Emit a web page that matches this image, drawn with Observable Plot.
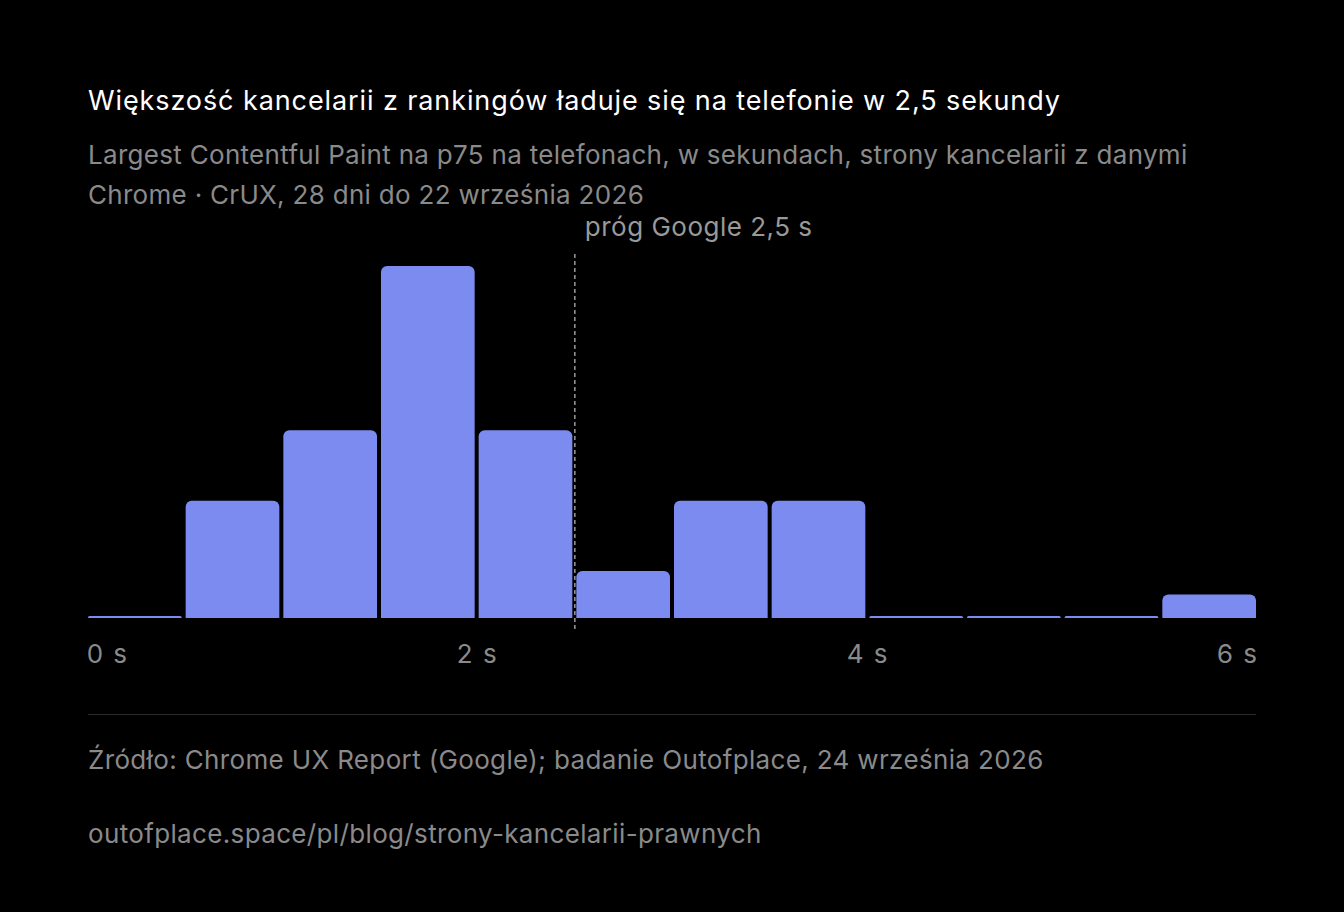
<!DOCTYPE html>
<html lang="pl">
<head>
<meta charset="utf-8">
<script src="https://cdn.jsdelivr.net/npm/d3@7"></script>
<script src="https://cdn.jsdelivr.net/npm/@observablehq/plot@0.6"></script>
<style>
  html, body { margin: 0; padding: 0; background: #000; }
  body { font-family: Inter, "Noto Sans", sans-serif; width: 1344px; height: 912px; overflow: hidden; }
  .wrap { position: relative; }
  .title { position: absolute; left: 88px; top: 84px; font-size: 27px; line-height: 34px; color: #fff; font-weight: 400; letter-spacing: 0.9px; white-space: nowrap; }
  .subtitle { position: absolute; left: 88px; top: 135px; width: 1172px; font-size: 26px; line-height: 40px; color: #8a8a8a; letter-spacing: 0.3px; }
  #chart { position: absolute; left: 0; top: 215px; }
  .rule { position: absolute; left: 88px; top: 714px; width: 1168px; height: 1px; background: #2b2b2b; }
  .source { position: absolute; left: 88px; top: 744px; font-size: 26px; line-height: 32px; color: #8a8a8a; letter-spacing: 0.35px; white-space: nowrap; }
  .url { position: absolute; left: 88px; top: 818px; font-size: 26px; line-height: 32px; color: #8a8a8a; letter-spacing: 0.35px; white-space: nowrap; }
</style>
</head>
<body>
<div class="wrap">
  <div class="title">Większość kancelarii z rankingów ładuje się na telefonie w 2,5 sekundy</div>
  <div class="subtitle">Largest Contentful Paint na p75 na telefonach, w sekundach, strony kancelarii z danymi Chrome · CrUX, 28 dni do 22 września 2026</div>
  <div id="chart"></div>
  <div class="rule"></div>
  <div class="source">Źródło: Chrome UX Report (Google); badanie Outofplace, 24 września 2026</div>
  <div class="url">outofplace.space/pl/blog/strony-kancelarii-prawnych</div>
</div>
<script>
// Histogram bins (seconds) and counts of law-firm sites per bin
const binStarts = [0, 0.5, 1, 1.5, 2, 2.5, 3, 3.5, 4, 4.5, 5, 5.5];
const binWidth = 0.5;
const counts = [0, 5, 8, 15, 8, 2, 5, 5, 0, 0, 0, 1];
const xTicks = [0, 2, 4, 6];
const threshold = 2.5;
const thresholdLabel = "próg Google 2,5 s";

const rows = binStarts.map((s, i) => ({ x1: s, x2: s + binWidth, count: counts[i] }));
const barColor = "#7b8bef";
const grey = "#8a8a8a";

const chart = Plot.plot({
  width: 1344,
  height: 470,
  marginLeft: 86,
  marginRight: 86,
  marginTop: 51,
  marginBottom: 67,
  style: { background: "transparent", color: grey, fontFamily: "Inter, 'Noto Sans', sans-serif", fontSize: "26px", overflow: "visible" },
  x: { domain: [0, 6], axis: null },
  y: { domain: [0, 15], axis: null },
  marks: [
    Plot.rectY(rows.filter(d => d.count > 0), { x1: "x1", x2: "x2", y: "count", fill: barColor, insetLeft: 2, insetRight: 2, insetBottom: -10, rx: 6, clip: "frame" }),
    Plot.rectY(rows.filter(d => d.count === 0), { x1: "x1", x2: "x2", y: "count", fill: barColor, insetLeft: 2, insetRight: 2, insetTop: -2, insetBottom: -4, rx: 1.5, clip: "frame" }),
    Plot.ruleX([threshold], { stroke: "#9a9a9a", strokeWidth: 1.5, strokeDasharray: "4,3", insetTop: -12, insetBottom: -12 }),
    Plot.text([thresholdLabel], { x: threshold, frameAnchor: "top", text: d => d, dx: 10, dy: -39, textAnchor: "start", lineAnchor: "middle", fill: "#999", fontSize: 26 }),
    Plot.axisX({ ticks: xTicks, tickFormat: d => `${d} s`, tickSize: 0, tickPadding: 26, fontSize: 26, color: grey })
  ]
});
document.getElementById("chart").appendChild(chart);

// first tick label left-aligned, last right-aligned; slight letter spacing like the reference
const labels = d3.select(chart).selectAll('g[aria-label="x-axis tick label"] text').nodes();
labels.forEach(n => n.setAttribute("letter-spacing", "1.5"));
if (labels.length) {
  labels[0].setAttribute("text-anchor", "start");
  labels[labels.length - 1].setAttribute("text-anchor", "end");
}
d3.select(chart).selectAll('g[aria-label="text"] text').attr("letter-spacing", "0.5");
</script>
</body>
</html>
